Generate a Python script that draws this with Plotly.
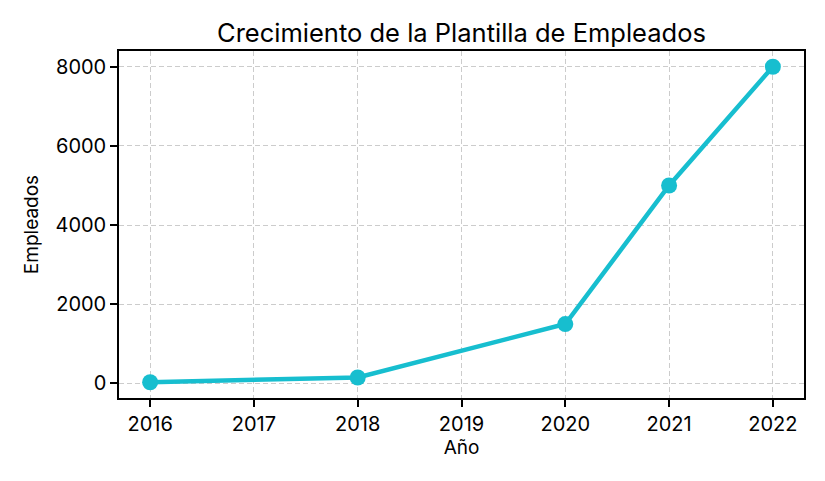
import plotly.graph_objects as go

years = [2016, 2018, 2020, 2021, 2022]
empleados = [30, 150, 1500, 5000, 8000]
x_ticks = [2016, 2017, 2018, 2019, 2020, 2021, 2022]
y_ticks = [0, 2000, 4000, 6000, 8000]

color = "#17becf"
font = "Inter, Lato, sans-serif"

fig = go.Figure()
fig.add_trace(go.Scatter(
    x=years, y=empleados, mode="lines+markers",
    line=dict(color=color, width=4.5),
    marker=dict(color=color, size=16),
    showlegend=False,
))

axis_common = dict(
    showline=True, linecolor="black", linewidth=1.5, mirror=True,
    ticks="outside", ticklen=7, tickcolor="black", tickwidth=1.5,
    showgrid=True, gridcolor="#cccccc", griddash="5px,3px", gridwidth=1.3,
    zeroline=False, tickfont=dict(size=20, color="black", family=font),
)

fig.update_layout(
    width=825, height=481,
    paper_bgcolor="white", plot_bgcolor="white",
    margin=dict(l=111, r=29, t=43, b=91),
    font=dict(family=font, color="black"),
    title=dict(text="Crecimiento de la Plantilla de Empleados", x=0.5, xref="paper", xanchor="center",
               y=1, yref="paper", yanchor="bottom", pad=dict(b=9),
               font=dict(size=25.5, color="black", family=font)),
    xaxis=dict(range=[2015.7, 2022.3], tickvals=x_ticks, ticktext=[str(t) for t in x_ticks],
               title=dict(text="Año", font=dict(size=19), standoff=6), **axis_common),
    yaxis=dict(range=[-368.5, 8398.5], tickvals=y_ticks, ticktext=[str(t) for t in y_ticks],
               title=dict(text="Empleados", font=dict(size=19), standoff=12), **axis_common),
)

fig.write_html("out.html")
